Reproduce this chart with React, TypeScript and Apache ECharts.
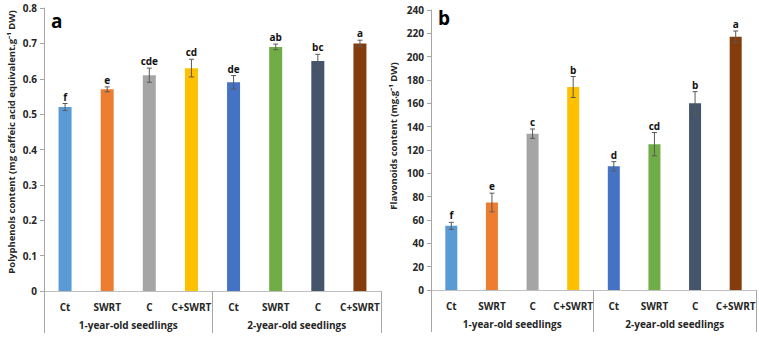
import React, { useEffect, useRef } from "react";
import * as echarts from "echarts";

const categories = ["Ct", "SWRT", "C", "C+SWRT", "Ct", "SWRT", "C", "C+SWRT"];
const groups = ["1-year-old seedlings", "2-year-old seedlings"];
const barColors = ["#5B9BD5", "#ED7D31", "#A5A5A5", "#FFC000", "#4472C4", "#70AD47", "#44546A", "#843C0C"];

const polyphenols = [0.52, 0.57, 0.61, 0.63, 0.59, 0.69, 0.65, 0.70];
const polyErr = [0.01, 0.007, 0.02, 0.025, 0.019, 0.008, 0.019, 0.009];
const polyLetters = ["f", "e", "cde", "cd", "de", "ab", "bc", "a"];
const polyTicks = { min: 0, max: 0.8, interval: 0.1 };
const polyName = "Polyphenols content (mg caffeic acid equivalent.g⁻¹ DW)";

const flavonoids = [55, 75, 134, 174, 106, 125, 160, 217];
const flavErr = [3, 8, 4, 9, 4, 10, 10, 5];
const flavLetters = ["f", "e", "c", "b", "d", "cd", "b", "a"];
const flavTicks = { min: 0, max: 240, interval: 20 };
const flavName = "Flavonoids content (mg.g⁻¹ DW)";

const FONT = '"Open Sans", sans-serif';
const TXT = "#262626";
const AXIS = "#A6A6A6";

function xAxes(gridIndex: number) {
  return [
    {
      type: "category",
      gridIndex,
      data: categories,
      axisLine: { show: true, lineStyle: { color: "#BFBFBF", width: 1 } },
      axisTick: { show: false },
      axisLabel: { interval: 0, margin: 11, color: TXT, fontWeight: "bold", fontSize: 10, fontFamily: FONT },
    },
    {
      type: "category",
      gridIndex,
      position: "bottom",
      data: groups,
      axisLine: { show: false },
      axisTick: { show: true, interval: 0, length: 42, lineStyle: { color: AXIS, width: 1 } },
      axisLabel: { interval: 0, margin: 29, color: TXT, fontWeight: "bold", fontSize: 10, fontFamily: FONT },
    },
  ];
}

function yAxis(gridIndex: number, ticks: any) {
  return {
    type: "value",
    gridIndex,
    min: ticks.min,
    max: ticks.max,
    interval: ticks.interval,
    axisLine: { show: true, lineStyle: { color: AXIS, width: 1 } },
    axisTick: { show: true, length: 4, lineStyle: { color: AXIS } },
    splitLine: { show: false },
    axisLabel: { margin: 7, color: TXT, fontWeight: "bold", fontSize: 10, fontFamily: FONT },
  };
}

function errSeries(xAxisIndex: number, yAxisIndex: number, vals: number[], errs: number[], letters: string[]) {
  return {
    type: "custom",
    xAxisIndex,
    yAxisIndex,
    clip: false,
    z: 5,
    data: vals.map((v, i) => [i, v, errs[i]]),
    encode: { x: 0, y: 1 },
    renderItem: (params: any, api: any) => {
      const i = api.value(0);
      const v = api.value(1);
      const e = api.value(2);
      const top = api.coord([i, v + e]);
      const bot = api.coord([i, v - e]);
      const stroke = { stroke: "#595959", lineWidth: 1 };
      return {
        type: "group",
        children: [
          { type: "line", shape: { x1: top[0], y1: top[1], x2: bot[0], y2: bot[1] }, style: stroke },
          { type: "line", shape: { x1: top[0] - 2.5, y1: top[1], x2: top[0] + 2.5, y2: top[1] }, style: stroke },
          { type: "line", shape: { x1: bot[0] - 2.5, y1: bot[1], x2: bot[0] + 2.5, y2: bot[1] }, style: stroke },
          {
            type: "text",
            x: top[0],
            y: top[1] - 2,
            style: {
              text: letters[params.dataIndex],
              align: "center",
              verticalAlign: "bottom",
              fill: "#111",
              font: `bold 10px ${FONT}`,
            },
          },
        ],
      };
    },
  };
}

function barSeries(xAxisIndex: number, yAxisIndex: number, vals: number[], width: number) {
  return {
    type: "bar",
    xAxisIndex,
    yAxisIndex,
    barWidth: width,
    data: vals.map((v, i) => ({ value: v, itemStyle: { color: barColors[i] } })),
  };
}

function axisName(text: string, x: number, y: number) {
  return {
    type: "text",
    x,
    y,
    rotation: Math.PI / 2,
    style: {
      text,
      align: "center",
      verticalAlign: "middle",
      fill: TXT,
      font: `bold 9.5px ${FONT}`,
    },
  };
}

export default function App() {
  const ref = useRef<HTMLDivElement>(null);
  useEffect(() => {
    if (!ref.current) return;
    const chart = echarts.init(ref.current, null, { renderer: "svg" });
    chart.setOption({
      animation: false,
      backgroundColor: "#fff",
      textStyle: { fontFamily: FONT },
      grid: [
        { left: 44, right: 378, top: 8, bottom: 48 },
        { left: 431, right: 3, top: 10, bottom: 49 },
      ],
      xAxis: [...xAxes(0), ...xAxes(1)],
      yAxis: [yAxis(0, polyTicks), yAxis(1, flavTicks)],
      series: [
        barSeries(0, 0, polyphenols, 13),
        errSeries(0, 0, polyphenols, polyErr, polyLetters),
        barSeries(2, 1, flavonoids, 12),
        errSeries(2, 1, flavonoids, flavErr, flavLetters),
      ],
      graphic: [
        axisName(polyName, 11, 142),
        axisName(flavName, 393, 136),
        { type: "text", left: 51, top: 11, style: { text: "a", font: `bold 19px ${FONT}`, fill: "#000" } },
        { type: "text", left: 438, top: 8, style: { text: "b", font: `bold 19px ${FONT}`, fill: "#000" } },
      ],
    });
    return () => chart.dispose();
  }, []);
  return <div ref={ref} style={{ position: "fixed", left: 0, top: 0, width: 759, height: 339 }} />;
}
